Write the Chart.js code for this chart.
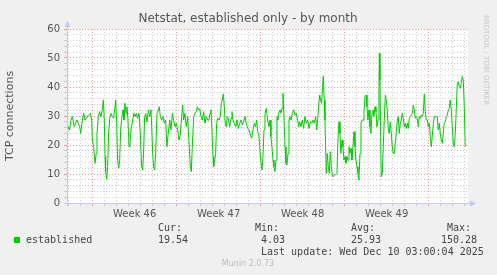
<!DOCTYPE html>
<html>
<head>
<meta charset="utf-8">
<script src="https://cdn.jsdelivr.net/npm/chart.js@4/dist/chart.umd.min.js"></script>
<style>
  html, body { margin: 0; padding: 0; background: #f0f0f0; }
  #wrap { width: 497px; height: 275px; position: relative; }
</style>
</head>
<body>
<div id="wrap"><canvas id="netstatChart" width="497" height="275"></canvas></div>
<script>
// x = days since the left edge of the graph, y = established TCP connections
const days = [
    0.00, 0.11, 0.22, 0.33, 0.44, 0.61, 0.72, 0.83, 0.94, 1.06, 1.14, 1.28, 1.39, 1.50, 1.61, 1.78, 1.94,
    2.06, 2.11, 2.22, 2.33, 2.44, 2.50, 2.61, 2.72, 2.83, 2.94, 3.03, 3.11, 3.17, 3.22, 3.31, 3.39, 3.47,
    3.56, 3.67, 3.78, 3.89, 4.00, 4.06, 4.14, 4.22, 4.31, 4.39, 4.47, 4.58, 4.67, 4.75, 4.83, 4.92, 5.00,
    5.08, 5.17, 5.25, 5.33, 5.44, 5.56, 5.67, 5.78, 5.89, 6.00, 6.11, 6.22, 6.31, 6.39, 6.47, 6.56, 6.67,
    6.78, 6.89, 7.00, 7.06, 7.14, 7.22, 7.31, 7.39, 7.50, 7.61, 7.69, 7.78, 7.89, 8.00, 8.11, 8.22, 8.33,
    8.42, 8.56, 8.67, 8.78, 8.89, 9.00, 9.11, 9.22, 9.33, 9.44, 9.56, 9.64, 9.72, 9.83, 9.94, 10.06, 10.11,
    10.19, 10.28, 10.36, 10.44, 10.56, 10.67, 10.78, 10.86, 10.94, 11.06, 11.17, 11.28, 11.39, 11.50, 11.61,
    11.72, 11.83, 11.92, 12.00, 12.08, 12.17, 12.22, 12.31, 12.39, 12.47, 12.56, 12.67, 12.78, 12.86, 12.94,
    13.03, 13.11, 13.19, 13.28, 13.36, 13.44, 13.56, 13.67, 13.75, 13.83, 13.94, 14.06, 14.17, 14.28, 14.39,
    14.50, 14.61, 14.72, 14.83, 14.94, 15.06, 15.17, 15.28, 15.39, 15.50, 15.61, 15.72, 15.81, 15.89, 15.97,
    16.06, 16.14, 16.25, 16.33, 16.42, 16.50, 16.61, 16.72, 16.83, 16.92, 17.00, 17.08, 17.17, 17.25, 17.33,
    17.42, 17.50, 17.58, 17.67, 17.75, 17.83, 17.92, 18.00, 18.08, 18.17, 18.25, 18.33, 18.42, 18.50, 18.58,
    18.67, 18.78, 18.89, 19.00, 19.11, 19.22, 19.31, 19.39, 19.50, 19.61, 19.72, 19.83, 19.94, 20.06, 20.17,
    20.28, 20.39, 20.50, 20.61, 20.72, 20.81, 20.89, 20.97, 21.06, 21.14, 21.22, 21.31, 21.36, 21.44, 21.50,
    21.56, 21.61, 21.69, 21.78, 21.86, 21.94, 22.03, 22.11, 22.19, 22.28, 22.39, 22.50, 22.58, 22.67, 22.75,
    22.83, 22.92, 23.00, 23.08, 23.17, 23.25, 23.33, 23.42, 23.50, 23.58, 23.67, 23.75, 23.83, 23.92, 24.00,
    24.08, 24.17, 24.25, 24.33, 24.42, 24.50, 24.58, 24.67, 24.75, 24.83, 24.92, 25.00, 25.08, 25.17, 25.25,
    25.33, 25.42, 25.50, 25.58, 25.67, 25.75, 25.83, 25.92, 26.00, 26.03, 26.08, 26.14, 26.19, 26.28, 26.36,
    26.44, 26.53, 26.61, 26.69, 26.78, 26.86, 26.94, 27.03, 27.11, 27.19, 27.28, 27.36, 27.44, 27.53, 27.61,
    27.69, 27.78, 27.86, 27.94, 28.03, 28.11, 28.19, 28.28, 28.36, 28.44, 28.53, 28.61, 28.69, 28.78, 28.86,
    28.94, 29.03, 29.11, 29.19, 29.28, 29.36, 29.44, 29.53, 29.61, 29.69, 29.78, 29.86, 29.94, 30.03, 30.11,
    30.19, 30.28, 30.36, 30.44, 30.53, 30.61, 30.69, 30.78, 30.86, 30.94, 31.03, 31.11, 31.19, 31.28, 31.36,
    31.44, 31.53, 31.61, 31.69, 31.78, 31.86, 31.94, 32.03, 32.11, 32.19, 32.28, 32.36, 32.44, 32.53, 32.61,
    32.69, 32.78, 32.86, 32.94, 33.03, 33.11, 33.19
];
const established = [
    24.0, 26.3, 25.2, 28.6, 29.8, 26.3, 27.5, 28.6, 27.5, 26.3, 24.0, 28.6, 30.9, 28.6, 29.2, 30.3, 30.9,
    28.6, 21.7, 19.4, 13.7, 17.1, 24.0, 29.8, 31.5, 29.8, 32.1, 35.5, 28.6, 16.0, 10.8, 8.2, 12.5, 24.0,
    29.2, 30.9, 29.8, 29.2, 33.2, 35.5, 27.5, 14.8, 12.0, 14.8, 25.2, 29.8, 32.1, 28.6, 34.4, 30.9, 33.2,
    28.6, 19.4, 20.6, 25.2, 27.5, 30.9, 29.8, 30.9, 29.2, 30.9, 24.0, 12.5, 11.4, 18.3, 29.8, 30.9, 28.0,
    32.1, 29.8, 32.1, 26.3, 17.1, 12.5, 11.4, 17.1, 30.9, 32.1, 33.2, 29.8, 28.6, 29.8, 27.5, 28.6, 19.4,
    23.4, 28.6, 25.2, 30.9, 28.6, 26.3, 27.5, 25.2, 21.7, 23.4, 29.8, 33.8, 28.6, 30.9, 26.3, 29.8, 25.2,
    19.4, 12.5, 10.8, 19.4, 29.8, 30.9, 31.5, 33.2, 32.1, 32.6, 29.8, 28.6, 31.5, 27.5, 29.8,
    28.6, 28.6, 30.9, 32.1, 25.2, 16.0, 12.5, 14.8, 17.1, 27.5, 29.2, 28.6, 29.8, 34.4, 35.5,
    37.6, 33.2, 27.5, 26.3, 29.8, 29.2, 26.3, 29.2, 31.5, 28.6, 27.5, 26.3, 28.6, 25.7, 27.5,
    28.6, 26.9, 28.0, 29.8, 27.5, 25.7, 25.2, 23.4, 22.3, 25.2, 27.5, 26.3, 28.6, 24.6, 24.0,
    19.4, 14.8, 11.4, 16.0, 25.2, 30.9, 32.6, 28.6, 26.3, 28.6, 22.9, 19.4, 14.8, 12.5, 10.8,
    14.8, 29.8, 28.6, 31.5, 32.1, 30.9, 32.6, 37.8, 29.8, 19.4, 13.7, 13.1, 17.1, 28.6, 29.8,
    28.6, 30.9, 32.1, 30.3, 30.9, 28.6, 26.3, 28.0, 26.3, 28.6, 25.7, 29.8, 27.5, 28.6, 25.7,
    28.0, 27.5, 28.6, 27.5, 29.8, 25.2, 28.6, 33.2, 37.2, 35.5, 34.4, 40.7, 43.8, 35.5, 28.6,
    18.3, 10.2, 17.1, 12.5, 10.2, 17.7, 12.5, 9.7, 9.1, 9.7, 9.7, 10.2, 21.7, 28.0, 24.0,
    17.1, 21.7, 19.4, 14.8, 16.0, 13.7, 16.0, 14.8, 19.4, 17.1, 18.8, 14.8, 19.4, 24.6, 19.4,
    14.8, 12.5, 10.2, 7.9, 17.1, 27.5, 28.6, 28.6, 31.0, 36.7, 37.2, 33.2, 28.6, 32.1, 26.3,
    24.0, 30.9, 32.1, 29.8, 33.2, 31.5, 26.3, 28.6, 40.1, 51.6, 42.4, 22.9, 9.1, 10.2, 19.4,
    28.6, 37.2, 35.5, 32.1, 25.2, 24.0, 28.0, 24.0, 19.4, 17.1, 17.1, 20.6, 24.0, 28.6, 29.8,
    24.0, 27.5, 28.6, 30.9, 29.2, 26.3, 27.5, 25.7, 27.5, 25.7, 29.2, 29.8, 30.3, 30.9, 33.8,
    32.1, 29.2, 29.8, 29.2, 26.3, 29.8, 29.2, 30.3, 29.8, 30.9, 37.6, 31.5, 28.6, 28.6, 26.3,
    27.5, 22.9, 19.4, 22.9, 27.5, 29.8, 29.8, 29.8, 29.8, 25.2, 27.5, 24.0, 21.7, 20.6, 24.0,
    27.5, 28.0, 29.8, 30.3, 32.1, 32.6, 35.5, 32.1, 26.3, 20.6, 19.4, 24.0, 32.1, 41.3, 41.8,
    40.1, 39.5, 41.3, 43.6, 42.4, 33.2, 19.4
];

const xSpan = 33.42;                       // days shown on the x axis
const weekStarts = [2.14, 9.14, 16.14, 23.14, 30.14];
const weekLabels = ['Week 46', 'Week 47', 'Week 48', 'Week 49'];
const yTicks = [0, 2, 4, 6, 8, 10, 12, 14, 16, 18, 20, 22, 24, 26, 28, 30,
                32, 34, 36, 38, 40, 42, 44, 46, 48, 50, 52, 54, 56, 58, 60];

const legendHead = ['Cur:', 'Min:', 'Avg:', 'Max:'];
const legendVals = ['19.54', '4.03', '25.93', '150.28'];
const lastUpdate = 'Last update: Wed Dec 10 03:00:04 2025';

const RED = 'rgba(230,120,120,0.75)';
const GRAY = 'rgba(190,190,190,0.8)';
const AXIS = '#c4c4ff';

// day grid lines every day, week labels in the middle of each week
const dayLines = [];
for (let d = weekStarts[0] % 1; d < xSpan; d += 1) dayLines.push(+d.toFixed(2));
const weekMids = weekStarts.slice(0, weekLabels.length).map(w => +(w + 3.5).toFixed(2));
const xTicks = dayLines.concat(weekMids).sort((a, b) => a - b);

const isWeek = v => weekStarts.some(w => Math.abs(w - v) < 0.01);
const isMid = v => weekMids.some(w => Math.abs(w - v) < 0.01);

const muninPlugin = {
    id: 'munin',
    beforeDraw(chart) {
        const { ctx, chartArea: a } = chart;
        ctx.save();
        ctx.fillStyle = '#f0f0f0';
        ctx.fillRect(0, 0, chart.width, chart.height);
        ctx.fillStyle = '#ffffff';
        ctx.fillRect(a.left, a.top, a.right - a.left, a.bottom - a.top);
        ctx.restore();
    },
    afterDraw(chart) {
        const { ctx, chartArea: a } = chart;
        ctx.save();

        // axes with arrows
        ctx.strokeStyle = AXIS;
        ctx.fillStyle = AXIS;
        ctx.lineWidth = 1;
        ctx.beginPath();
        ctx.moveTo(a.left + 0.5, a.bottom + 3);
        ctx.lineTo(a.left + 0.5, a.top - 4);
        ctx.moveTo(a.left - 3, a.bottom + 0.5);
        ctx.lineTo(a.right + 4, a.bottom + 0.5);
        ctx.stroke();
        ctx.beginPath();
        ctx.moveTo(a.left + 0.5, a.top - 8);
        ctx.lineTo(a.left - 2.5, a.top - 2);
        ctx.lineTo(a.left + 3.5, a.top - 2);
        ctx.fill();
        ctx.beginPath();
        ctx.moveTo(a.right + 8, a.bottom + 0.5);
        ctx.lineTo(a.right + 2, a.bottom - 2.5);
        ctx.lineTo(a.right + 2, a.bottom + 3.5);
        ctx.fill();

        // title
        ctx.fillStyle = '#555';
        ctx.font = '12px "DejaVu Sans"';
        ctx.textAlign = 'center';
        ctx.textBaseline = 'middle';
        ctx.fillText('Netstat, established only - by month', 248, 19);

        // rrdtool credit
        ctx.save();
        ctx.translate(486, 15);
        ctx.rotate(Math.PI / 2);
        ctx.fillStyle = '#c8c8c8';
        ctx.font = '7px "DejaVu Sans"';
        ctx.textAlign = 'left';
        ctx.fillText('RRDTOOL / TOBI OETIKER', 0, 0);
        ctx.restore();

        // legend
        ctx.fillStyle = '#00cc00';
        ctx.fillRect(14, 237, 6, 6);
        ctx.fillStyle = '#444';
        ctx.font = '10px "DejaVu Sans Mono"';
        ctx.textAlign = 'left';
        ctx.fillText('established', 26, 240);
        const headX = [158, 255, 351, 447];
        const valX = [158, 261, 351, 441];
        legendHead.forEach((t, i) => ctx.fillText(t, headX[i], 228));
        legendVals.forEach((t, i) => ctx.fillText(t, valX[i], 240));
        ctx.fillText(lastUpdate, 261, 252);

        ctx.fillStyle = '#bdbdbd';
        ctx.font = '8px "DejaVu Sans"';
        ctx.textAlign = 'center';
        ctx.fillText('Munin 2.0.73', 248, 264);
        ctx.restore();
    }
};

const ctx = document.getElementById('netstatChart').getContext('2d');
new Chart(ctx, {
    type: 'line',
    data: {
        datasets: [{
            label: 'established',
            data: days.map((d, i) => ({ x: d, y: established[i] })),
            borderColor: '#00cc00',
            borderWidth: 1,
            pointRadius: 0,
            tension: 0,
            fill: false
        }]
    },
    options: {
        responsive: false,
        animation: false,
        layout: { padding: { top: 29, left: 0, right: 29, bottom: 52 } },
        plugins: {
            legend: { display: false },
            tooltip: { enabled: false },
            title: { display: false }
        },
        scales: {
            x: {
                type: 'linear',
                min: 0,
                max: xSpan,
                afterFit: s => { s.height = 20; },
                afterBuildTicks: s => { s.ticks = xTicks.map(v => ({ value: v })); },
                ticks: {
                    autoSkip: false,
                    maxRotation: 0,
                    padding: 2,
                    color: '#555',
                    font: { family: 'DejaVu Sans', size: 10 },
                    callback: v => {
                        const i = weekMids.findIndex(w => Math.abs(w - v) < 0.01);
                        return i >= 0 ? weekLabels[i] : '';
                    }
                },
                grid: {
                    color: c => isMid(c.tick.value) ? 'rgba(0,0,0,0)' : (isWeek(c.tick.value) ? RED : GRAY),
                    tickColor: c => isMid(c.tick.value) ? 'rgba(0,0,0,0)' : (isWeek(c.tick.value) ? RED : '#c8c8d8'),
                    tickLength: 3,
                    lineWidth: 1
                },
                border: { display: false, dash: [1, 2] }
            },
            y: {
                min: 0,
                max: 60,
                afterFit: s => { s.width = 67; },
                afterBuildTicks: s => { s.ticks = yTicks.map(v => ({ value: v })); },
                title: {
                    display: true,
                    text: 'TCP connections',
                    color: '#555',
                    font: { family: 'DejaVu Sans', size: 11 },
                    padding: { top: 4, bottom: 0 }
                },
                ticks: {
                    autoSkip: false,
                    padding: 4,
                    color: '#555',
                    font: { family: 'DejaVu Sans', size: 10 },
                    callback: v => (v % 10 === 0 ? v : '')
                },
                grid: {
                    color: c => (c.tick.value % 10 === 0 ? RED : GRAY),
                    tickColor: c => (c.tick.value % 10 === 0 ? RED : '#c8c8d8'),
                    tickLength: 3,
                    lineWidth: 1
                },
                border: { display: false, dash: [1, 2] }
            }
        }
    },
    plugins: [muninPlugin]
});
</script>
</body>
</html>
